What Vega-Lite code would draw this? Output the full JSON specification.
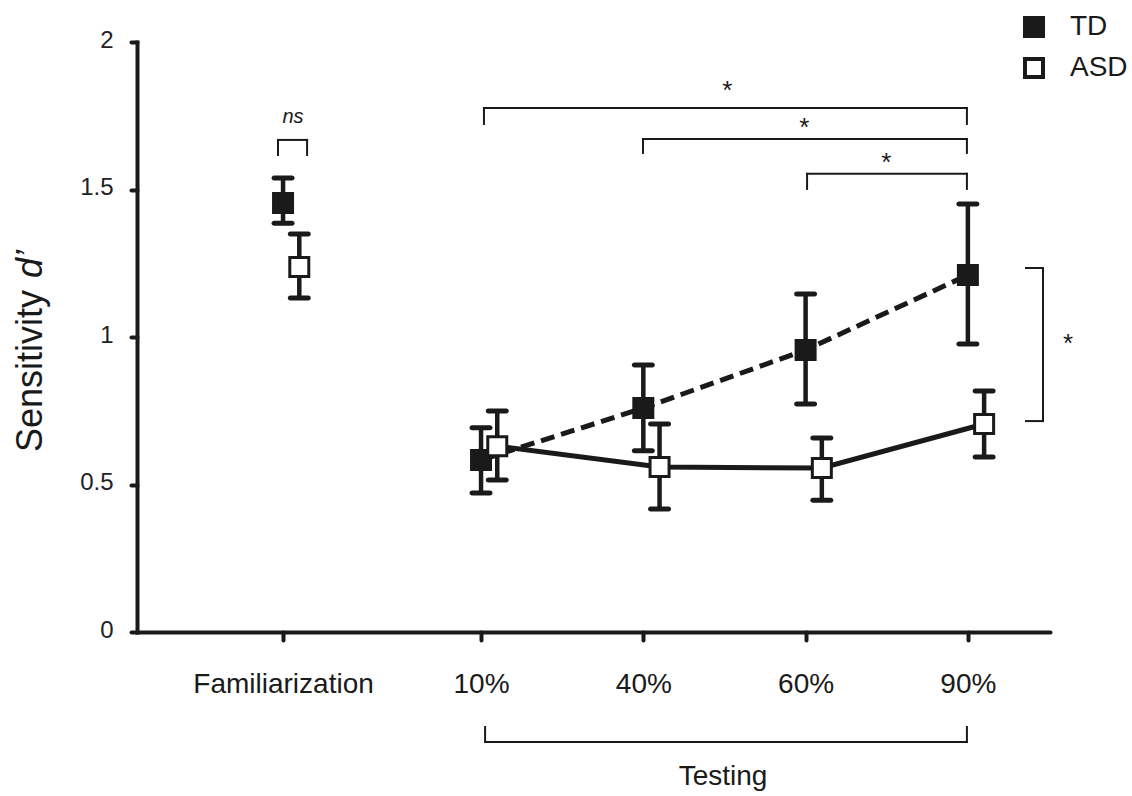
{
  "$schema": "https://vega.github.io/schema/vega-lite/v6.json",
  "width": 913,
  "height": 590,
  "autosize": {"type": "none"},
  "padding": {"left": 137, "top": 42, "right": 82, "bottom": 164},
  "background": "white",
  "config": {
    "view": {"stroke": null},
    "font": "Liberation Sans",
    "axisX": {
      "domainWidth": 4, "domainColor": "#1a1a1a", "domainCap": "round",
      "tickWidth": 4, "tickSize": 8, "tickColor": "#1a1a1a", "tickCap": "round",
      "labelFontSize": 28, "labelFont": "Liberation Sans", "labelColor": "#1a1a1a",
      "labelPadding": 30, "labelFlush": false, "labelOverlap": false, "labelLimit": 0, "grid": false
    },
    "axisY": {
      "domainWidth": 4, "domainColor": "#1a1a1a", "domainCap": "square",
      "tickWidth": 4, "tickSize": 6, "tickColor": "#1a1a1a", "tickCap": "round",
      "labelFontSize": 24, "labelFont": "Liberation Sans", "labelColor": "#222222",
      "labelPadding": 18, "labelOffset": -2, "labelFlush": false, "labelOverlap": false, "labelLimit": 0, "grid": false
    }
  },
  "datasets": {
    "means": [
      {"cond": "Familiarization", "pos": 0, "group": "TD", "d": 1.454, "lo": 1.386, "hi": 1.539},
      {"cond": "Familiarization", "pos": 0, "group": "ASD", "d": 1.237, "lo": 1.132, "hi": 1.349},
      {"cond": "10%", "pos": 1.22, "group": "TD", "d": 0.583, "lo": 0.471, "hi": 0.692},
      {"cond": "10%", "pos": 1.22, "group": "ASD", "d": 0.63, "lo": 0.515, "hi": 0.749},
      {"cond": "40%", "pos": 2.22, "group": "TD", "d": 0.759, "lo": 0.614, "hi": 0.905},
      {"cond": "40%", "pos": 2.22, "group": "ASD", "d": 0.559, "lo": 0.417, "hi": 0.705},
      {"cond": "60%", "pos": 3.22, "group": "TD", "d": 0.956, "lo": 0.773, "hi": 1.146},
      {"cond": "60%", "pos": 3.22, "group": "ASD", "d": 0.556, "lo": 0.447, "hi": 0.658},
      {"cond": "90%", "pos": 4.22, "group": "TD", "d": 1.21, "lo": 0.976, "hi": 1.451},
      {"cond": "90%", "pos": 4.22, "group": "ASD", "d": 0.705, "lo": 0.593, "hi": 0.817}
    ],
    "brackets": [
      {"x": 1.238, "x2": 4.214, "y": 1.776, "y2": 1.776},
      {"x": 1.238, "x2": 1.238, "y": 1.776, "y2": 1.722},
      {"x": 4.214, "x2": 4.214, "y": 1.776, "y2": 1.722},
      {"x": 2.218, "x2": 4.214, "y": 1.671, "y2": 1.671},
      {"x": 2.218, "x2": 2.218, "y": 1.671, "y2": 1.624},
      {"x": 4.214, "x2": 4.214, "y": 1.671, "y2": 1.624},
      {"x": 3.229, "x2": 4.214, "y": 1.553, "y2": 1.553},
      {"x": 3.229, "x2": 3.229, "y": 1.553, "y2": 1.502},
      {"x": 4.214, "x2": 4.214, "y": 1.553, "y2": 1.502},
      {"x": -0.031, "x2": 0.148, "y": 1.668, "y2": 1.668},
      {"x": -0.031, "x2": -0.031, "y": 1.668, "y2": 1.617},
      {"x": 0.148, "x2": 0.148, "y": 1.668, "y2": 1.617},
      {"x": 4.683, "x2": 4.683, "y": 1.234, "y2": 0.715},
      {"x": 4.578, "x2": 4.683, "y": 1.234, "y2": 1.234},
      {"x": 4.578, "x2": 4.683, "y": 0.715, "y2": 0.715},
      {"x": 1.245, "x2": 4.214, "y": -0.373, "y2": -0.373},
      {"x": 1.245, "x2": 1.245, "y": -0.373, "y2": -0.322},
      {"x": 4.214, "x2": 4.214, "y": -0.373, "y2": -0.322}
    ],
    "notes": [
      {"kind": "star", "x": 2.738, "y": 1.851, "label": "*"},
      {"kind": "star", "x": 3.212, "y": 1.725, "label": "*"},
      {"kind": "star", "x": 3.718, "y": 1.607, "label": "*"},
      {"kind": "star", "x": 4.837, "y": 0.993, "label": "*"},
      {"kind": "ns", "x": 0.061, "y": 1.746, "label": "ns"},
      {"kind": "testing", "x": 2.711, "y": -0.4915, "label": "Testing"},
      {"kind": "ytitle", "x": -1.485, "y": 0.61, "label": "Sensitivity"},
      {"kind": "yitalic", "x": -1.485, "y": 1.2, "label": "d’"}
    ]
  },
  "layer": [
    {
      "data": {"name": "means"},
      "transform": [
        {"filter": "datum.group === 'TD' && datum.cond !== 'Familiarization'"},
        {"calculate": "datum.pos + (datum.group === 'ASD' ? 0.1 : 0)", "as": "x"}
      ],
      "mark": {"type": "line", "color": "#1a1a1a", "strokeWidth": 5, "strokeDash": [14, 7]},
      "encoding": {
        "x": {
          "field": "x", "type": "quantitative", "title": null,
          "scale": {"domain": [-0.9, 4.726], "nice": false, "zero": false},
          "axis": {
            "values": [0, 1.22, 2.22, 3.22, 4.22],
            "labelExpr": "datum.value < 0.5 ? 'Familiarization' : datum.value < 1.5 ? '10%' : datum.value < 2.5 ? '40%' : datum.value < 3.5 ? '60%' : '90%'"
          }
        },
        "y": {
          "field": "d", "type": "quantitative", "title": null,
          "scale": {"domain": [0, 2], "nice": false, "zero": true},
          "axis": {"values": [0, 0.5, 1, 1.5, 2], "format": "~g"}
        },
        "order": {"field": "pos", "type": "quantitative"}
      }
    },
    {
      "data": {"name": "means"},
      "transform": [
        {"filter": "datum.group === 'ASD' && datum.cond !== 'Familiarization'"},
        {"calculate": "datum.pos + (datum.group === 'ASD' ? 0.1 : 0)", "as": "x"}
      ],
      "mark": {"type": "line", "color": "#1a1a1a", "strokeWidth": 5},
      "encoding": {
        "x": {"field": "x", "type": "quantitative", "title": null},
        "y": {"field": "d", "type": "quantitative", "title": null},
        "order": {"field": "pos", "type": "quantitative"}
      }
    },
    {
      "data": {"name": "means"},
      "transform": [
        {"calculate": "datum.pos + (datum.group === 'ASD' ? 0.1 : 0)", "as": "x"}
      ],
      "mark": {"type": "rule", "color": "#1a1a1a", "strokeWidth": 4.5},
      "encoding": {
        "x": {"field": "x", "type": "quantitative", "title": null},
        "y": {"field": "lo", "type": "quantitative", "title": null},
        "y2": {"field": "hi"}
      }
    },
    {
      "data": {"name": "means"},
      "transform": [
        {"calculate": "datum.pos + (datum.group === 'ASD' ? 0.1 : 0)", "as": "x"},
        {"fold": ["lo", "hi"], "as": ["bound", "val"]}
      ],
      "mark": {"type": "tick", "orient": "horizontal", "size": 23, "thickness": 5, "color": "#1a1a1a", "cornerRadius": 2.5, "opacity": 1},
      "encoding": {
        "x": {"field": "x", "type": "quantitative", "title": null},
        "y": {"field": "val", "type": "quantitative", "title": null}
      }
    },
    {
      "data": {"name": "means"},
      "transform": [
        {"calculate": "datum.pos + (datum.group === 'ASD' ? 0.1 : 0)", "as": "x"}
      ],
      "mark": {"type": "point", "shape": "square", "size": 361, "filled": true, "stroke": "#1a1a1a", "strokeWidth": 3, "opacity": 1},
      "encoding": {
        "x": {"field": "x", "type": "quantitative", "title": null},
        "y": {"field": "d", "type": "quantitative", "title": null},
        "fill": {
          "field": "group", "type": "nominal",
          "scale": {"domain": ["TD", "ASD"], "range": ["#1a1a1a", "#ffffff"]},
          "legend": {
            "orient": "none", "legendX": 883, "legendY": -29, "title": null,
            "symbolType": "square", "symbolSize": 324, "symbolStrokeWidth": 4, "symbolStrokeColor": "#1a1a1a",
            "labelFontSize": 28, "labelFont": "Liberation Sans", "labelColor": "#1a1a1a",
            "labelOffset": 22, "rowPadding": 7, "padding": 0,
            "encode": {"symbols": {"update": {"stroke": {"value": "#1a1a1a"}, "strokeWidth": {"value": 4}}}}
          }
        }
      }
    },
    {
      "data": {"name": "brackets"},
      "mark": {"type": "rule", "color": "#1a1a1a", "strokeWidth": 2, "strokeCap": "square"},
      "encoding": {
        "x": {"field": "x", "type": "quantitative", "title": null},
        "x2": {"field": "x2"},
        "y": {"field": "y", "type": "quantitative", "title": null},
        "y2": {"field": "y2"}
      }
    },
    {
      "data": {"name": "notes"},
      "transform": [{"filter": "datum.kind === 'star'"}],
      "mark": {"type": "text", "fontSize": 26, "font": "Liberation Sans", "color": "#1a1a1a", "align": "center", "baseline": "middle", "dy": 5},
      "encoding": {
        "x": {"field": "x", "type": "quantitative", "title": null},
        "y": {"field": "y", "type": "quantitative", "title": null},
        "text": {"field": "label"}
      }
    },
    {
      "data": {"name": "notes"},
      "transform": [{"filter": "datum.kind === 'ns'"}],
      "mark": {"type": "text", "fontSize": 20, "fontStyle": "italic", "font": "Liberation Sans", "color": "#1a1a1a", "align": "center", "baseline": "middle"},
      "encoding": {
        "x": {"field": "x", "type": "quantitative", "title": null},
        "y": {"field": "y", "type": "quantitative", "title": null},
        "text": {"field": "label"}
      }
    },
    {
      "data": {"name": "notes"},
      "transform": [{"filter": "datum.kind === 'testing'"}],
      "mark": {"type": "text", "fontSize": 28, "font": "Liberation Sans", "color": "#1a1a1a", "align": "center", "baseline": "middle"},
      "encoding": {
        "x": {"field": "x", "type": "quantitative", "title": null},
        "y": {"field": "y", "type": "quantitative", "title": null},
        "text": {"field": "label"}
      }
    },
    {
      "data": {"name": "notes"},
      "transform": [{"filter": "datum.kind === 'ytitle'"}],
      "mark": {"type": "text", "fontSize": 36, "font": "Liberation Sans", "color": "#1a1a1a", "align": "left", "baseline": "alphabetic", "angle": 270},
      "encoding": {
        "x": {"field": "x", "type": "quantitative", "title": null},
        "y": {"field": "y", "type": "quantitative", "title": null},
        "text": {"field": "label"}
      }
    },
    {
      "data": {"name": "notes"},
      "transform": [{"filter": "datum.kind === 'yitalic'"}],
      "mark": {"type": "text", "fontSize": 36, "fontStyle": "italic", "font": "Liberation Sans", "color": "#1a1a1a", "align": "left", "baseline": "alphabetic", "angle": 270},
      "encoding": {
        "x": {"field": "x", "type": "quantitative", "title": null},
        "y": {"field": "y", "type": "quantitative", "title": null},
        "text": {"field": "label"}
      }
    }
  ]
}
